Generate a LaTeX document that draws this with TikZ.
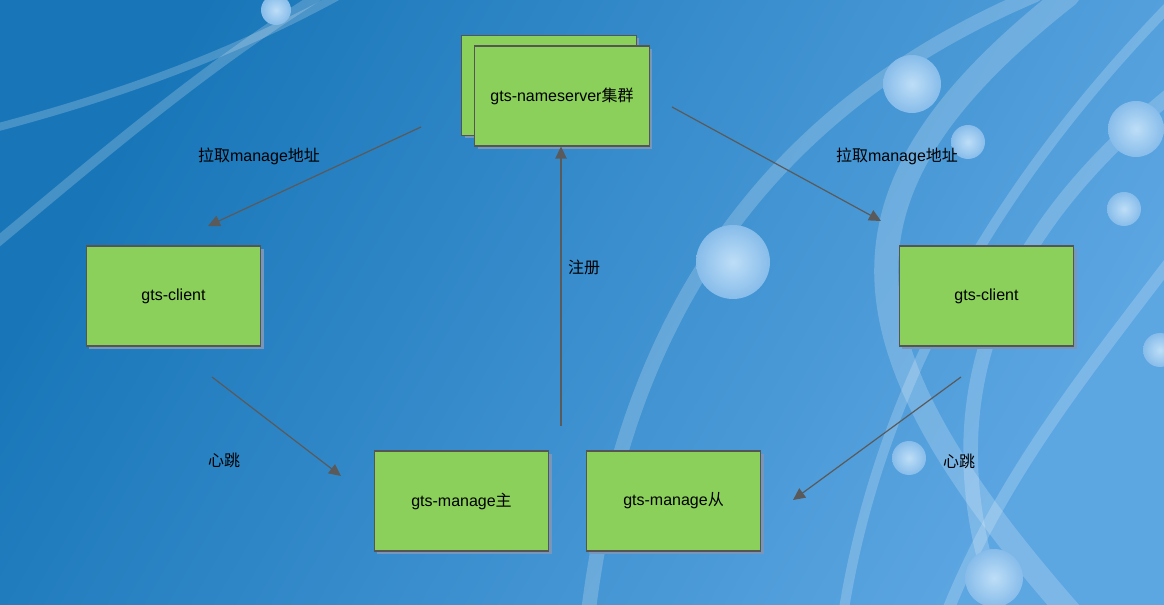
\documentclass[tikz,border=0pt]{standalone}
\usepackage{fontspec}
\setmainfont{Liberation Sans}
\newfontfamily\cjk{Noto Sans CJK SC}
\usetikzlibrary{arrows.meta,shadows}

\definecolor{boxgreen}{RGB}{139,208,90}
\definecolor{edgegray}{RGB}{85,85,85}
\definecolor{linegray}{RGB}{90,90,90}
\definecolor{shadowblue}{RGB}{120,150,185}
\definecolor{bgdark}{RGB}{24,118,184}
\definecolor{bglight}{RGB}{92,166,226}
\definecolor{bubin}{RGB}{190,222,247}
\definecolor{bubout}{RGB}{135,188,234}

\begin{document}
\begin{tikzpicture}[x=0.75pt,y=-0.75pt,
  box/.style={draw=edgegray, line width=0.8pt, fill=boxgreen,
    minimum width=131pt, minimum height=75pt,
    font=\fontsize{12}{14}\selectfont,
    drop shadow={shadow xshift=2.2pt, shadow yshift=-2.2pt, fill=shadowblue, opacity=1}},
  lbl/.style={font=\fontsize{12}{14}\selectfont, text=black},
  link/.style={draw=linegray, line width=0.9pt, -{Triangle[width=8.5pt,length=9pt]}},
  band/.style={draw=white, opacity=0.2, line cap=round},
  bubble/.style={inner color=bubin, outer color=bubout}]

  % background
  \shade[shading=axis, left color=bgdark, right color=bglight, shading angle=60]
    (0,0) rectangle (1164,605);
  \useasboundingbox (0,0) rectangle (1164,605);

  \begin{scope}
    \clip (0,0) rectangle (1164,605);
    \draw[band, line width=6pt] (-5,128) .. controls (120,95) and (230,55) .. (340,-5);
    \draw[band, line width=7.5pt] (-5,244) .. controls (90,165) and (200,70) .. (320,-5);
    \draw[band, line width=11pt] (588,615) .. controls (620,350) and (740,120) .. (1035,-5);
    \draw[band, line width=18pt] (1068,-5) .. controls (820,190) and (830,340) .. (1072,615);
    \draw[band, line width=7.5pt] (1170,5) .. controls (1000,180) and (880,380) .. (843,615);
    \draw[band, line width=11pt] (1170,95) .. controls (980,250) and (930,420) .. (1002,615);
    \draw[band, line width=9pt] (1170,262) .. controls (1080,380) and (1000,480) .. (946,615);

    \shade[bubble] (276,10) circle (15);
    \shade[bubble] (912,84) circle (29);
    \shade[bubble] (968,142) circle (17);
    \shade[bubble] (1136,129) circle (28);
    \shade[bubble] (1124,209) circle (17);
    \shade[bubble] (733,262) circle (37);
    \shade[bubble] (1160,350) circle (17);
    \shade[bubble] (909,458) circle (17);
    \shade[bubble] (994,578) circle (29);
  \end{scope}

  % nodes
  \node[box] (nsback) at (549,85.5) {};
  \node[box] (ns) at (562,96) {gts-nameserver{\cjk 集群}};
  \node[box] (clientL) at (173.5,296) {gts-client};
  \node[box] (clientR) at (986.5,296) {gts-client};
  \node[box] (master) at (461.5,501) {gts-manage{\cjk 主}};
  \node[box] (slave) at (673.5,501) {gts-manage{\cjk 从}};

  % connector ends
  \coordinate (pullLs) at (421,127);
  \coordinate (pullLe) at (208,226);
  \coordinate (pullRs) at (672,107);
  \coordinate (pullRe) at (881,221);
  \coordinate (regs) at (561,426);
  \coordinate (beatLs) at (212,377);
  \coordinate (beatLe) at (341,476);
  \coordinate (beatRs) at (961,377);
  \coordinate (beatRe) at (793,500);

  \draw[link] (pullLs) -- (pullLe);
  \draw[link] (pullRs) -- (pullRe);
  \draw[link] (regs) -- (ns.south -| regs);
  \draw[link] (beatLs) -- (beatLe);
  \draw[link] (beatRs) -- (beatRe);

  % labels
  \node[lbl] (pullL) at (259,156) {{\cjk 拉取}manage{\cjk 地址}};
  \node[lbl] (pullR) at (897,156) {{\cjk 拉取}manage{\cjk 地址}};
  \node[lbl] (reg) at (584,267) {\cjk 注册};
  \node[lbl] (beatL) at (224,460) {\cjk 心跳};
  \node[lbl] (beatR) at (959,461) {\cjk 心跳};
\end{tikzpicture}
\end{document}
